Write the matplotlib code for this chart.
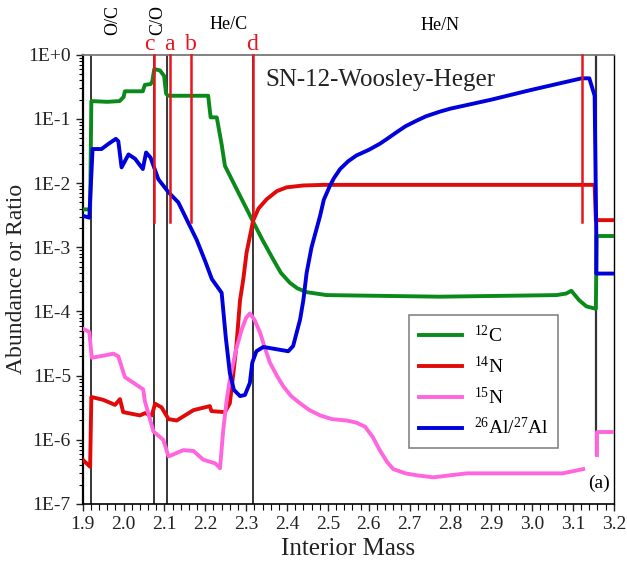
import numpy as np
import matplotlib
matplotlib.use('Agg')
import matplotlib.pyplot as plt
from matplotlib import rc
from matplotlib.ticker import LogLocator, MultipleLocator, FixedLocator, NullFormatter
import matplotlib.transforms as mtransforms

rc('font', family='Liberation Serif', size=14)
rc('mathtext', fontset='custom', rm='Liberation Serif', it='Liberation Serif:italic')

# 12C
c12_x = [1.90, 1.918, 1.921, 1.96, 1.99, 2.0, 2.003, 2.047, 2.052, 2.066, 2.070,
         2.075, 2.089, 2.099, 2.104, 2.108, 2.207, 2.213, 2.228, 2.240, 2.248,
         2.317, 2.34, 2.366, 2.385, 2.407, 2.425, 2.448, 2.497, 2.774, 3.059, 3.083,
         3.096, 3.115, 3.133, 3.156, 3.158, 3.20]
c12_y = [3.9e-3, 3.9e-3, 0.19, 0.185, 0.19, 0.22, 0.27, 0.27, 0.34, 0.35, 0.38,
         0.6, 0.57, 0.47, 0.25, 0.23, 0.23, 0.106, 0.106, 0.04, 0.0186,
         2.5e-3, 1.3e-3, 6.5e-4, 4.0e-4, 2.8e-4, 2.3e-4, 2.0e-4, 1.8e-4, 1.7e-4, 1.8e-4, 1.9e-4,
         2.1e-4, 1.5e-4, 1.2e-4, 1.1e-4, 1.5e-3, 1.5e-3]

# 14N
n14_x = [1.90, 1.918, 1.921, 1.95, 1.979, 1.991, 1.999, 2.04, 2.052, 2.069, 2.077,
         2.093, 2.11, 2.13, 2.171, 2.211, 2.215, 2.248, 2.26, 2.268, 2.276, 2.285,
         2.293, 2.301, 2.317, 2.33, 2.35, 2.375, 2.399, 2.44, 2.489, 3.153, 3.156, 3.20]
n14_y = [4.9e-7, 3.8e-7, 4.65e-6, 4.2e-6, 3.5e-6, 4.3e-6, 2.7e-6, 2.4e-6, 2.6e-6, 2.4e-6, 3.65e-6,
         3.2e-6, 2.1e-6, 2.0e-6, 2.9e-6, 3.35e-6, 2.8e-6, 2.7e-6, 3.7e-6, 1.0e-5, 2.9e-5, 1.5e-4,
         3.2e-4, 8.3e-4, 2.6e-3, 4.0e-3, 5.6e-3, 7.5e-3, 8.6e-3, 9.2e-3, 9.4e-3, 9.4e-3, 2.65e-3, 2.65e-3]

# 15N
n15_x = [1.90, 1.916, 1.922, 1.942, 1.975, 1.987, 2.003, 2.048, 2.052, 2.073, 2.097,
         2.11, 2.146, 2.171, 2.195, 2.224, 2.236, 2.244, 2.252, 2.26, 2.275, 2.289, 2.300,
         2.309, 2.32, 2.334, 2.345, 2.358, 2.375, 2.391, 2.41, 2.432, 2.455, 2.481, 2.51,
         2.546, 2.57, 2.591, 2.61, 2.627, 2.645, 2.66, 2.69, 2.717, 2.758, 2.84, 3.075, 3.125]
n15_y = [5.4e-5, 4.8e-5, 1.9e-5, 2.0e-5, 2.2e-5, 2.0e-5, 9.5e-6, 6.1e-6, 4.0e-6, 1.35e-6, 1.0e-6,
         5.5e-7, 6.9e-7, 6.7e-7, 4.9e-7, 4.3e-7, 3.6e-7, 1.45e-6, 4.0e-6, 8.7e-6, 2.5e-5, 5.2e-5, 8.0e-5,
         9.3e-5, 7.5e-5, 4.7e-5, 2.8e-5, 1.6e-5, 1.0e-5, 6.8e-6, 4.8e-6, 3.7e-6, 2.9e-6, 2.4e-6, 2.1e-6,
         2.0e-6, 1.85e-6, 1.6e-6, 1.1e-6, 6.9e-7, 4.5e-7, 3.5e-7, 3.0e-7, 2.8e-7, 2.6e-7, 3.0e-7, 3.0e-7, 3.5e-7]
n15_edge_x = [3.159, 3.159, 3.20]
n15_edge_y = [5.9e-7, 1.33e-6, 1.33e-6]

# 26Al/27Al
al_x = [1.90, 1.916, 1.924, 1.946, 1.963, 1.981, 1.987, 1.995, 2.012, 2.028, 2.047,
        2.055, 2.066, 2.085, 2.11, 2.134, 2.179, 2.20, 2.216, 2.24, 2.25, 2.26, 2.27, 2.285,
        2.297, 2.309, 2.315, 2.325, 2.342, 2.403, 2.415, 2.432, 2.44, 2.448, 2.46, 2.481,
        2.49, 2.505, 2.515, 2.53, 2.55, 2.57, 2.60, 2.627, 2.645, 2.668, 2.69, 2.717, 2.74,
        2.774, 2.80, 2.831, 2.90, 2.994, 3.06, 3.121, 3.14, 3.153, 3.157, 3.157, 3.20]
al_y = [3.1e-3, 2.9e-3, 0.034, 0.034, 0.041, 0.049, 0.045, 0.0176, 0.028, 0.024, 0.0166,
        0.030, 0.025, 0.0115, 7.2e-3, 5.0e-3, 1.3e-3, 6e-4, 3.2e-4, 1.95e-4, 4e-5, 1.1e-5, 6e-6, 4.8e-6,
        5e-6, 7.7e-6, 1.6e-5, 2.4e-5, 2.8e-5, 2.4e-5, 2.9e-5, 7.5e-5, 1.5e-4, 4e-4, 1.0e-3, 3.1e-3,
        5.5e-3, 9.1e-3, 0.012, 0.0166, 0.022, 0.027, 0.033, 0.041, 0.049, 0.062, 0.077, 0.094, 0.11,
        0.13, 0.145, 0.16, 0.2, 0.28, 0.35, 0.43, 0.43, 0.23, 1.7e-3, 3.9e-4, 3.9e-4]

# zone boundaries
black_lines = [1.92, 2.075, 2.105, 2.317]
edge_line = 3.157
edge_bottom = 5.9e-7
red_lines = [2.075, 2.113, 2.164, 2.317, 3.121]
red_bottom = 2.5e-3
red_letters = ['c', 'a', 'b', 'd']
red_letter_x = [2.062, 2.113, 2.164, 2.315]
zones = ['O/C', 'C/O', 'He/C', 'He/N']
zone_x = [1.974, 2.084, 2.258, 2.775]

yticks = [1e-7, 1e-6, 1e-5, 1e-4, 1e-3, 1e-2, 1e-1, 1e0]
ylabels = ['1E-7', '1E-6', '1E-5', '1E-4', '1E-3', '1E-2', '1E-1', '1E+0']

fig = plt.figure(figsize=(6.27, 5.65), dpi=100)
ax = fig.add_axes([0.132, 0.108, 0.847, 0.795])
ax.set_yscale('log')
ax.set_xlim(1.9, 3.2)
ax.set_ylim(1e-7, 1.0)

for xv in black_lines:
    ax.plot([xv, xv], [1e-7, 1.0], color='black', lw=1.1, zorder=1)
ax.plot([edge_line, edge_line], [edge_bottom, 1.0], color='#333333', lw=1.6, zorder=1)

lw = 2.8
ax.plot(c12_x, c12_y, color='#0a8a1a', lw=lw, label=r'$^{12}$C', zorder=3)
ax.plot(n14_x, n14_y, color='#e00a0a', lw=lw, label=r'$^{14}$N', zorder=3)
ax.plot(n15_x, n15_y, color='#ff66dd', lw=lw, label=r'$^{15}$N', zorder=3)
ax.plot(n15_edge_x, n15_edge_y, color='#ff66dd', lw=lw, zorder=3)
ax.plot(al_x, al_y, color='#0000dd', lw=lw, label=r'$^{26}$Al/$^{27}$Al', zorder=3)

for xv in red_lines:
    ax.plot([xv, xv], [red_bottom, 1.0], color='#e8141e', lw=1.8, zorder=4, clip_on=False)

trans = mtransforms.blended_transform_factory(ax.transData, ax.transAxes)
for lab, xv in zip(red_letters, red_letter_x):
    ax.text(xv, 1.0, lab, transform=trans, ha='center', va='bottom', color='#e8141e', fontsize=17)
ax.text(zone_x[0], 1.078, zones[0], transform=trans, ha='center', va='center', rotation=90, fontsize=13)
ax.text(zone_x[1], 1.078, zones[1], transform=trans, ha='center', va='center', rotation=90, fontsize=13)
ax.text(zone_x[2], 1.068, zones[2], transform=trans, ha='center', va='center', fontsize=13)
ax.text(zone_x[3], 1.066, zones[3], transform=trans, ha='center', va='center', fontsize=13)

ax.text(2.346, 0.944, 'SN-12-Woosley-Heger', transform=trans, ha='left', va='center', fontsize=18, color='#222222')
ax.text(3.164, 0.047, '(a)', transform=trans, ha='center', va='center', fontsize=14)

leg = ax.legend(loc='upper left', bbox_to_anchor=(0.615, 0.421), fontsize=14, frameon=True,
                fancybox=False, edgecolor='#666666', handlelength=2.2, handletextpad=0.6,
                labelspacing=0.5, borderpad=0.5, borderaxespad=0)
leg.get_frame().set_linewidth(1.2)

ax.yaxis.set_major_locator(FixedLocator(yticks))
ax.set_yticklabels(ylabels)
ax.yaxis.set_minor_locator(LogLocator(base=10, subs=np.arange(2, 10), numticks=20))
ax.yaxis.set_minor_formatter(NullFormatter())
ax.xaxis.set_major_locator(MultipleLocator(0.1))
ax.xaxis.set_minor_locator(MultipleLocator(0.02))
ax.xaxis.set_major_formatter(matplotlib.ticker.FormatStrFormatter('%.1f'))
ax.tick_params(axis='both', which='major', direction='out', length=5, width=1.0, labelsize=14, colors='#222222')
ax.tick_params(axis='both', which='minor', direction='out', length=3, width=0.8)
ax.tick_params(axis='x', which='minor', length=4)

ax.spines['top'].set_color('#777777')
ax.spines['top'].set_linewidth(1.3)
ax.spines['left'].set_linewidth(1.6)
ax.spines['bottom'].set_linewidth(1.2)
ax.spines['right'].set_linewidth(1.0)

ax.set_xlabel('Interior Mass', fontsize=18, color='#222222', labelpad=4)
ax.set_ylabel('Abundance or Ratio', fontsize=17, color='#222222', labelpad=1)

fig.savefig('out.png', dpi=100)
